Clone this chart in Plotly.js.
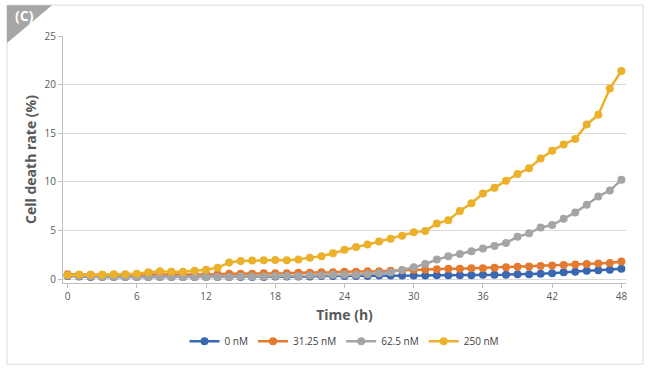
<!DOCTYPE html>
<html>
<head>
<meta charset="utf-8">
<script src="https://cdn.plot.ly/plotly-3.0.1.min.js"></script>
<style>html,body{margin:0;padding:0;background:#fff;}#chart{width:650px;height:370px;}</style>
</head>
<body>
<div id="chart"></div>
<script>
const hours = [0,1,2,3,4,5,6,7,8,9,10,11,12,13,14,15,16,17,18,19,20,21,22,23,24,25,26,27,28,29,30,31,32,33,34,35,36,37,38,39,40,41,42,43,44,45,46,47,48];
const seriesNames = ["0 nM", "31.25 nM", "62.5 nM", "250 nM"];
const xTicks = [0,6,12,18,24,30,36,42,48];
const yTicks = [0,5,10,15,20,25];

const v0 = [0.3,0.25,0.2,0.2,0.2,0.2,0.2,0.2,0.2,0.2,0.2,0.2,
  0.2,0.2,0.2,0.2,0.2,0.2,0.25,0.25,0.25,0.25,0.3,0.3,
  0.3,0.3,0.3,0.35,0.35,0.35,0.35,0.35,0.4,0.4,0.4,0.4,
  0.45,0.45,0.45,0.5,0.5,0.55,0.6,0.7,0.75,0.85,0.9,0.95,1.05];
const v3125 = [0.5,0.45,0.45,0.45,0.45,0.45,0.45,0.5,0.5,0.5,0.5,0.5,
  0.5,0.5,0.55,0.55,0.55,0.6,0.6,0.6,0.65,0.65,0.7,0.7,
  0.75,0.75,0.8,0.8,0.85,0.9,0.95,0.95,1.0,1.05,1.05,1.1,
  1.1,1.15,1.2,1.25,1.3,1.35,1.4,1.45,1.5,1.55,1.6,1.65,1.8];
const v625 = [0.4,0.3,0.25,0.2,0.2,0.2,0.2,0.2,0.2,0.2,0.2,0.2,
  0.2,0.2,0.2,0.25,0.25,0.25,0.3,0.3,0.3,0.35,0.4,0.45,
  0.45,0.45,0.5,0.6,0.7,0.93,1.2,1.55,2.0,2.33,2.57,2.85,
  3.15,3.4,3.7,4.35,4.7,5.3,5.55,6.2,6.85,7.65,8.5,9.1,10.2];
const v250 = [0.4,0.45,0.45,0.45,0.5,0.5,0.55,0.7,0.8,0.75,0.75,0.85,
  0.95,1.15,1.7,1.85,1.9,1.92,1.95,1.92,2.0,2.2,2.35,2.65,
  3.0,3.3,3.55,3.85,4.15,4.45,4.8,4.95,5.7,6.05,7.0,7.8,
  8.8,9.4,10.1,10.8,11.4,12.4,13.2,13.85,14.4,15.9,16.9,19.6,21.4];

const values = [v0, v3125, v625, v250];
const colors = ["#3a67b1", "#e37a2f", "#a5a5a5", "#ecb12b"];

const traces = values.map((v, i) => ({
  x: hours, y: v, name: seriesNames[i], type: "scatter", mode: "lines+markers",
  line: {color: colors[i], width: 2.5},
  marker: {color: colors[i], size: 8}
}));

const fontFam = "'Open Sans', 'Noto Sans', sans-serif";
const layout = {
  width: 650, height: 370,
  margin: {l: 63, r: 24, t: 36, b: 86.5},
  paper_bgcolor: "#fff", plot_bgcolor: "#fff",
  font: {family: fontFam, color: "#595959", size: 10},
  showlegend: true,
  legend: {orientation: "h", x: 0.5, xanchor: "center", y: -0.236, yanchor: "middle",
           font: {size: 10, color: "#404040"}, itemwidth: 30},
  xaxis: {
    range: [-0.4, 48.4], tickvals: xTicks, ticktext: xTicks.map(String),
    showgrid: false, zeroline: false, showline: true, linecolor: "#bfbfbf", linewidth: 1,
    ticks: "outside", ticklen: 4, tickcolor: "#bfbfbf",
    tickfont: {size: 10, color: "#595959"},
    title: {text: "Time (h)", font: {size: 14, color: "#595959", family: fontFam, weight: "bold"}, standoff: 8}
  },
  yaxis: {
    range: [-0.41, 25], tickvals: yTicks, ticktext: yTicks.map(String),
    showgrid: true, gridcolor: "#d9d9d9", gridwidth: 1, zeroline: false,
    showline: true, linecolor: "#bfbfbf", linewidth: 1,
    ticks: "outside", ticklen: 4, tickcolor: "#bfbfbf",
    tickfont: {size: 10, color: "#595959"},
    title: {text: "Cell death rate (%)", font: {size: 14, color: "#595959", family: fontFam, weight: "bold"}, standoff: 4}
  },
  shapes: [
    {type: "rect", xref: "paper", yref: "paper", x0: -0.0995, x1: 1.0302, y0: -0.329, y1: 1.125,
     line: {color: "#d9d9d9", width: 1}, fillcolor: "rgba(0,0,0,0)", layer: "below"},
    {type: "path", xref: "paper", yref: "paper",
     path: "M -0.0995 1.125 L -0.0195 1.125 L -0.0995 0.972 Z",
     fillcolor: "#a6a6a6", line: {width: 0}}
  ],
  annotations: [
    {xref: "paper", yref: "paper", x: -0.0685, y: 1.083, text: "<b>(C)</b>", showarrow: false,
     font: {size: 14, color: "#ffffff", family: fontFam}, xanchor: "center", yanchor: "middle"}
  ]
};

Plotly.newPlot("chart", traces, layout, {displayModeBar: false, staticPlot: true});
</script>
</body>
</html>
